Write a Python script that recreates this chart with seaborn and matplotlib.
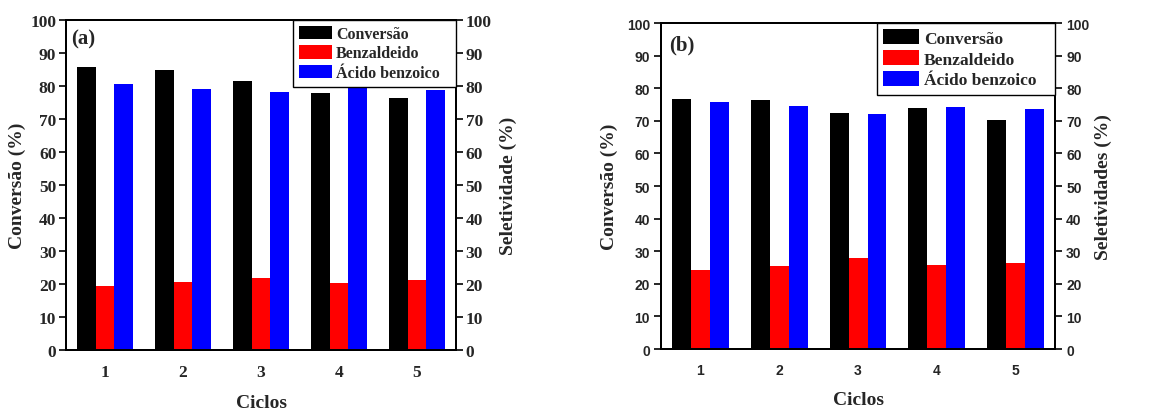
import matplotlib
matplotlib.use('Agg')
import matplotlib.pyplot as plt
from matplotlib.patches import Patch
import seaborn as sns
import pandas as pd

# ==========================================
# Dados
# ==========================================
ciclos = ['1', '2', '3', '4', '5']
series = ['Conversão', 'Benzaldeido', 'Ácido benzoico']
cores = ['#000000', '#ff0000', '#0000ff']

# painel (a)
conv_a = [85.8, 84.9, 81.5, 77.9, 76.4]
benz_a = [19.5, 20.7, 21.8, 20.4, 21.2]
acido_a = [80.6, 79.2, 78.2, 79.9, 78.9]

# painel (b)
conv_b = [76.8, 76.4, 72.4, 74.0, 70.3]
benz_b = [24.3, 25.5, 28.0, 25.8, 26.4]
acido_b = [75.8, 74.7, 72.2, 74.3, 73.7]

SERIF = 'Liberation Serif'
SANS = 'Liberation Sans'


def montar_df(conv, benz, acido):
    linhas = []
    for nome, vals in zip(series, [conv, benz, acido]):
        for c, v in zip(ciclos, vals):
            linhas.append({'Ciclos': c, 'valor': v, 'serie': nome})
    return pd.DataFrame(linhas)


def desenhar_painel(ax, df, letra, rotulo_dir, fonte_ticks, tick_size,
                    pad_l, pad_r, lpad_l, lpad_r, letra_pos, leg_box, leg_size):
    sns.barplot(data=df, x='Ciclos', y='valor', hue='serie', hue_order=series,
                palette=cores, saturation=1, width=0.72, ax=ax, legend=False,
                edgecolor='none', linewidth=0)
    ax.set_ylim(0, 100)
    ax.set_xlim(-0.5, 4.5)
    ax.set_yticks(range(0, 101, 10))

    ax2 = ax.twinx()
    ax2.set_ylim(0, 100)
    ax2.set_yticks(range(0, 101, 10))

    for a in (ax, ax2):
        for s in a.spines.values():
            s.set_linewidth(1.4)
            s.set_color('black')

    ax.tick_params(axis='both', direction='out', length=5, width=1.4)
    ax.tick_params(axis='y', pad=pad_l)
    ax.tick_params(axis='x', pad=5)
    ax2.tick_params(axis='y', direction='out', length=5, width=1.4, pad=pad_r)

    for lab in ax.get_xticklabels() + ax.get_yticklabels() + ax2.get_yticklabels():
        lab.set_fontfamily(fonte_ticks)
        lab.set_fontweight('bold')
        lab.set_fontsize(tick_size)

    fl = dict(family=SERIF, weight='bold', size=14)
    ax.set_xlabel('Ciclos', fontdict=fl, labelpad=10)
    ax.set_ylabel('Conversão (%)', fontdict=fl, labelpad=lpad_l)
    ax2.set_ylabel(rotulo_dir, fontdict=fl, labelpad=lpad_r)

    ax.text(letra_pos[0], letra_pos[1], letra, transform=ax.transAxes,
            ha='left', va='center', family=SERIF, weight='bold', size=15)

    handles = [Patch(facecolor=c, edgecolor='none', label=n) for c, n in zip(cores, series)]
    leg = ax2.legend(handles=handles, loc='upper right', bbox_to_anchor=leg_box,
                     mode='expand', frameon=True, fancybox=False, framealpha=1,
                     edgecolor='black', prop=dict(family=SERIF, weight='bold', size=leg_size),
                     handlelength=2.1, handleheight=0.95, handletextpad=0.25,
                     labelspacing=0.2, borderpad=0.35, borderaxespad=0)
    leg.get_frame().set_linewidth(1.0)
    leg.set_zorder(10)


if __name__ == '__main__':
    sns.set_style('white')
    plt.rcParams['font.family'] = [SERIF, 'DejaVu Serif']

    fig = plt.figure(figsize=(11.71, 4.10), dpi=100)
    ax_a = fig.add_axes([0.0564, 0.1439, 0.333, 0.805])
    ax_b = fig.add_axes([0.5645, 0.1463, 0.3365, 0.795])

    desenhar_painel(ax_a, montar_df(conv_a, benz_a, acido_a), '(a)', 'Seletividade (%)',
                    SERIF, 12.5, 2, 2, 3, 6, (0.012, 0.945),
                    (0.582, 0.8, 0.418, 0.2), 11.5)
    desenhar_painel(ax_b, montar_df(conv_b, benz_b, acido_b), '(b)', 'Seletividades (%)',
                    SANS, 10, 3, 3, 6, 4, (0.02, 0.935),
                    (0.548, 0.8, 0.452, 0.2), 12.5)

    fig.savefig('out.png', dpi=100)
    plt.close(fig)
